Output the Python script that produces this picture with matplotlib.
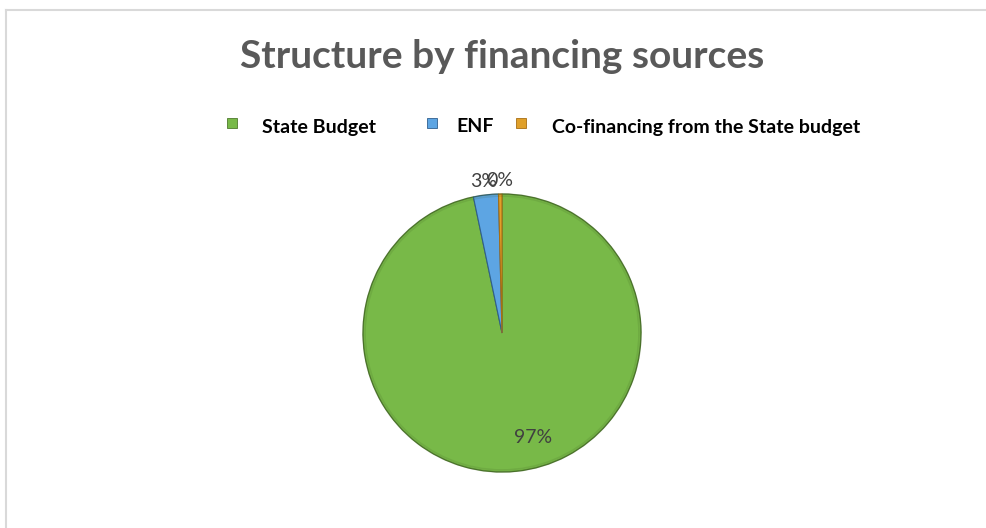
import numpy as np
import matplotlib.pyplot as plt
from matplotlib.patches import Rectangle
from matplotlib.lines import Line2D

# financing sources and their shares (%)
sources = ['State Budget', 'ENF', 'Co-financing from the State budget']
shares = [96.7, 2.9, 0.4]
colors = ['#78B948', '#5DA5E3', '#E0A02A']
edges = ['#4E7A2C', '#2F5F8F', '#A86E12']

W, H = 987, 528
fig = plt.figure(figsize=(W / 100, H / 100), dpi=100)
fig.patch.set_facecolor('white')

# chart frame (top and left border)
fig.add_artist(Line2D([6 / W, 1], [1 - 10 / H, 1 - 10 / H], color='#D9D9D9', lw=1.5))
fig.add_artist(Line2D([6 / W, 6 / W], [0, 1 - 10 / H], color='#D9D9D9', lw=1.5))

fig.text(502 / W, 1 - 56 / H, 'Structure by financing sources', ha='center', va='center',
         fontsize=28, fontweight='bold', color='#595959', family='Lato')

# pie axes: centre at (502, 333) px, radius ~139 px
R = 139
half = 1.1
ax = fig.add_axes([(502 - half * R) / W, (H - 333 - half * R) / H, 2 * half * R / W, 2 * half * R / H])

wedges, texts, autotexts = ax.pie(shares, colors=colors, startangle=90, counterclock=False,
                                  radius=1, autopct='%1.0f%%', pctdistance=0.78,
                                  wedgeprops=dict(linewidth=0.8),
                                  textprops=dict(fontsize=14, color='#404040', family='Lato'))
ax.set_xlim(-half, half)
ax.set_ylim(-half, half)
ax.set_aspect('equal')
ax.axis('off')
for w, ec in zip(wedges, edges):
    w.set_edgecolor(ec)

# small slices get their labels just outside the rim
for w, t, s in zip(wedges, autotexts, shares):
    ang = np.deg2rad((w.theta1 + w.theta2) / 2)
    if s < 10:
        t.set_position((1.12 * np.cos(ang), 1.10 * np.sin(ang)))
    else:
        t.set_position((0.22, -0.75))

# rim shading for a bevelled look
for r, a in [(1.0, 0.35), (0.985, 0.15)]:
    ax.add_patch(plt.Circle((0, 0), r, fill=False, ec='#3E5F22', lw=1.2, alpha=a))

# legend row: marker x and text x in pixels
leg_y = 1 - 127 / H
marker_x = [227, 427, 516]
text_x = [262, 456, 552]
for name, c, e, mx, tx in zip(sources, colors, edges, marker_x, text_x):
    fig.add_artist(Rectangle((mx / W, leg_y - 1 / H), 10 / W, 10 / H, facecolor=c,
                             edgecolor=e, lw=0.6, transform=fig.transFigure))
    fig.text(tx / W, leg_y, name, ha='left', va='center', fontsize=14,
             fontweight='bold', color='black', family='Lato')

fig.savefig('out.png', dpi=100, facecolor='white')
